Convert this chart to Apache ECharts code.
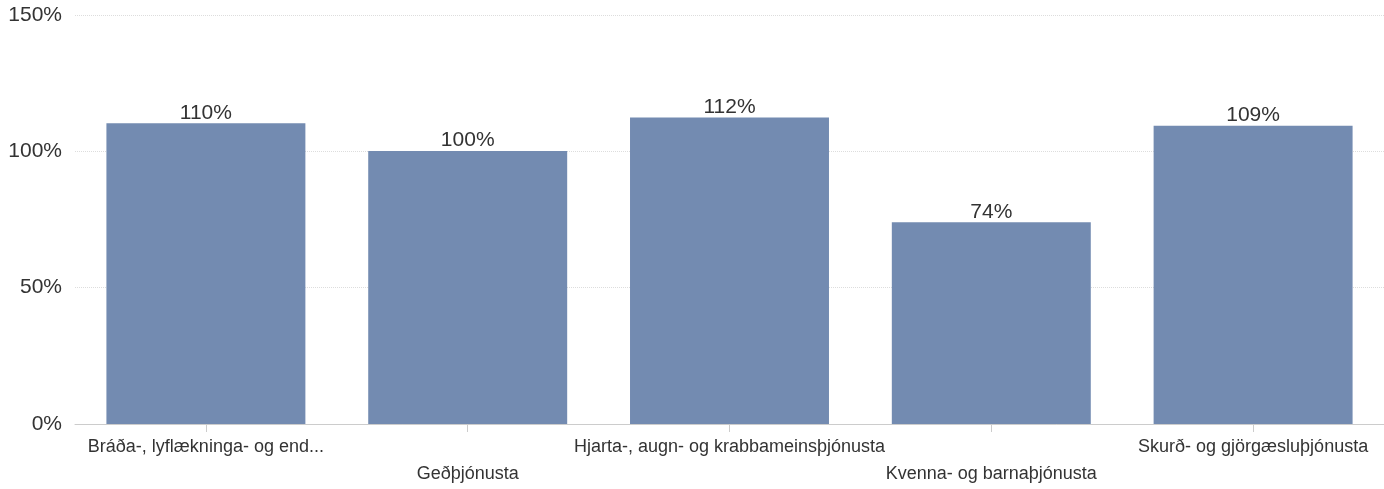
<!DOCTYPE html>
<html>
<head>
<meta charset="utf-8">
<script src="https://cdn.jsdelivr.net/npm/echarts@6/dist/echarts.min.js"></script>
<style>
  html, body { margin: 0; padding: 0; background: #fff; }
  #chart { width: 1384px; height: 489px; }
</style>
</head>
<body>
<div id="chart"></div>
<script>
// flokkar (sviðin)
const categories = [
  "Bráða-, lyflækninga- og end...",
  "Geðþjónusta",
  "Hjarta-, augn- og krabbameinsþjónusta",
  "Kvenna- og barnaþjónusta",
  "Skurð- og gjörgæsluþjónusta",
];
// hlutfall í %
const values = [110.3, 100.1, 112.4, 74.0, 109.4];
const yTicks = [0, 50, 100, 150];

const FONT = "'Liberation Sans', Arial, sans-serif";

const chart = echarts.init(document.getElementById("chart"));

chart.setOption({
  animation: false,
  grid: {
    left: 75,
    right: 0,
    top: 15,
    bottom: 65,
    containLabel: false,
  },
  xAxis: {
    type: "category",
    data: categories,
    axisLine: { lineStyle: { color: "#cccccc" } },
    axisTick: {
      show: true,
      alignWithLabel: true,
      length: 8,
      lineStyle: { color: "#cccccc" },
    },
    axisLabel: {
      interval: 0,
      margin: 10,
      color: "#333333",
      fontFamily: FONT,
      fontSize: 18,
      lineHeight: 27,
      formatter: (value, idx) => (idx % 2 ? "\n" + value : value),
    },
  },
  yAxis: {
    type: "value",
    min: yTicks[0],
    max: yTicks[yTicks.length - 1],
    interval: 50,
    axisLine: { show: false },
    axisTick: { show: false },
    axisLabel: {
      margin: 13,
      color: "#333333",
      fontFamily: FONT,
      fontSize: 21,
      formatter: "{value}%",
    },
    splitLine: {
      lineStyle: { color: "#dddddd", type: "dotted" },
    },
  },
  series: [
    {
      type: "bar",
      data: values,
      barCategoryGap: "24%",
      itemStyle: { color: "#738bb1" },
      label: {
        show: true,
        position: "top",
        distance: 0,
        color: "#333333",
        fontFamily: FONT,
        fontSize: 21,
        formatter: (p) => Math.round(p.value) + "%",
      },
    },
  ],
});
</script>
</body>
</html>
